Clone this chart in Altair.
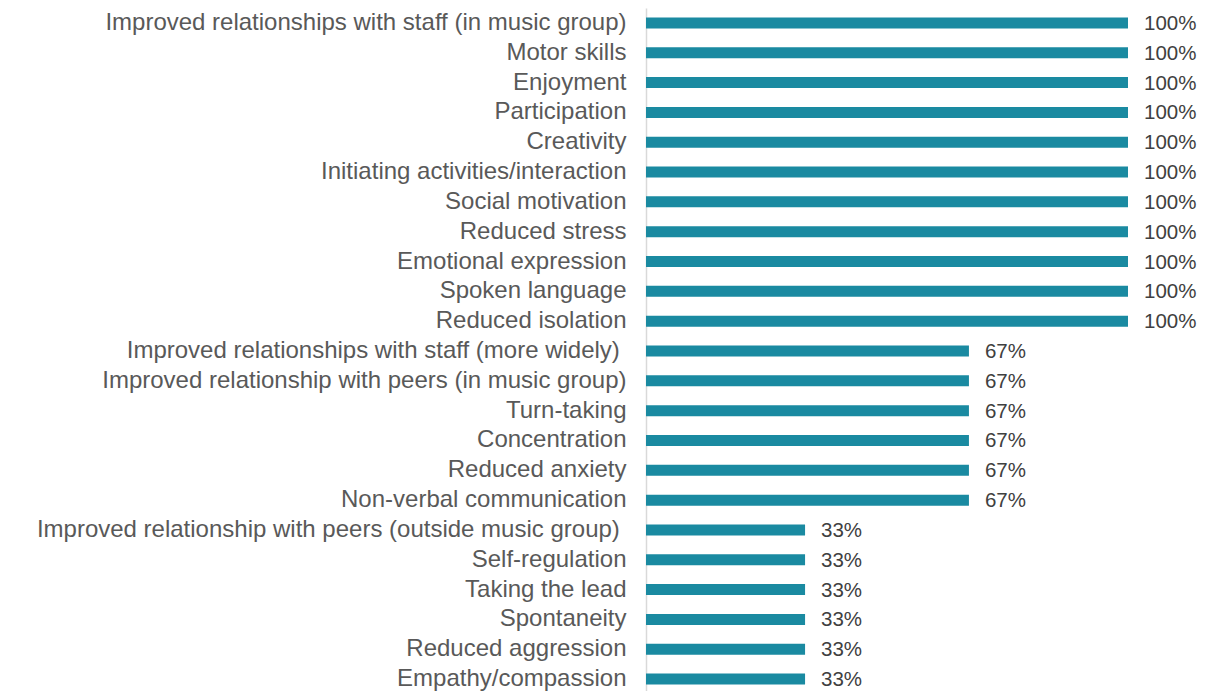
import altair as alt
import pandas as pd

categories = [
    "Improved relationships with staff (in music group)",
    "Motor skills",
    "Enjoyment",
    "Participation",
    "Creativity",
    "Initiating activities/interaction",
    "Social motivation",
    "Reduced stress",
    "Emotional expression",
    "Spoken language",
    "Reduced isolation",
    "Improved relationships with staff (more widely) \u200b",
    "Improved relationship with peers (in music group)",
    "Turn-taking",
    "Concentration",
    "Reduced anxiety",
    "Non-verbal communication",
    "Improved relationship with peers (outside music group) \u200b",
    "Self-regulation",
    "Taking the lead",
    "Spontaneity",
    "Reduced aggression",
    "Empathy/compassion",
]
values = [1.0] * 11 + [0.67] * 6 + [0.33] * 6
labels = ["100%"] * 11 + ["67%"] * 6 + ["33%"] * 6

df = pd.DataFrame({"cat": categories, "val": values, "lab": labels})

yscale = alt.Scale(range=[0, 686])
y = alt.Y("cat:N", sort=categories, title=None, scale=yscale,
          axis=alt.Axis(labelFont="Liberation Sans", labelFontSize=24, labelColor="#595959",
                        labelPadding=20, ticks=False, domainColor="#d9d9d9", domainWidth=1.5,
                        labelLimit=700))
x = alt.X("val:Q", scale=alt.Scale(domain=[0, 1]), axis=None)

bars = alt.Chart(df).mark_bar(size=11, color="#1a8aa1").encode(y=y, x=x)
text = alt.Chart(df).mark_text(align="left", dx=16, font="Liberation Sans", fontSize=20.5,
                               color="#404040", baseline="middle", dy=1).encode(
    y=alt.Y("cat:N", sort=categories, scale=yscale), x=x, text="lab:N")

chart = (bars + text).properties(
    width=482, height=683,
    padding={"left": 646, "top": 8, "right": 86, "bottom": 0},
    autosize=alt.AutoSizeParams(type="none"),
    background="white",
).configure_view(strokeWidth=0)

chart.save("out.html", embed_options={"renderer": "svg", "actions": False})
